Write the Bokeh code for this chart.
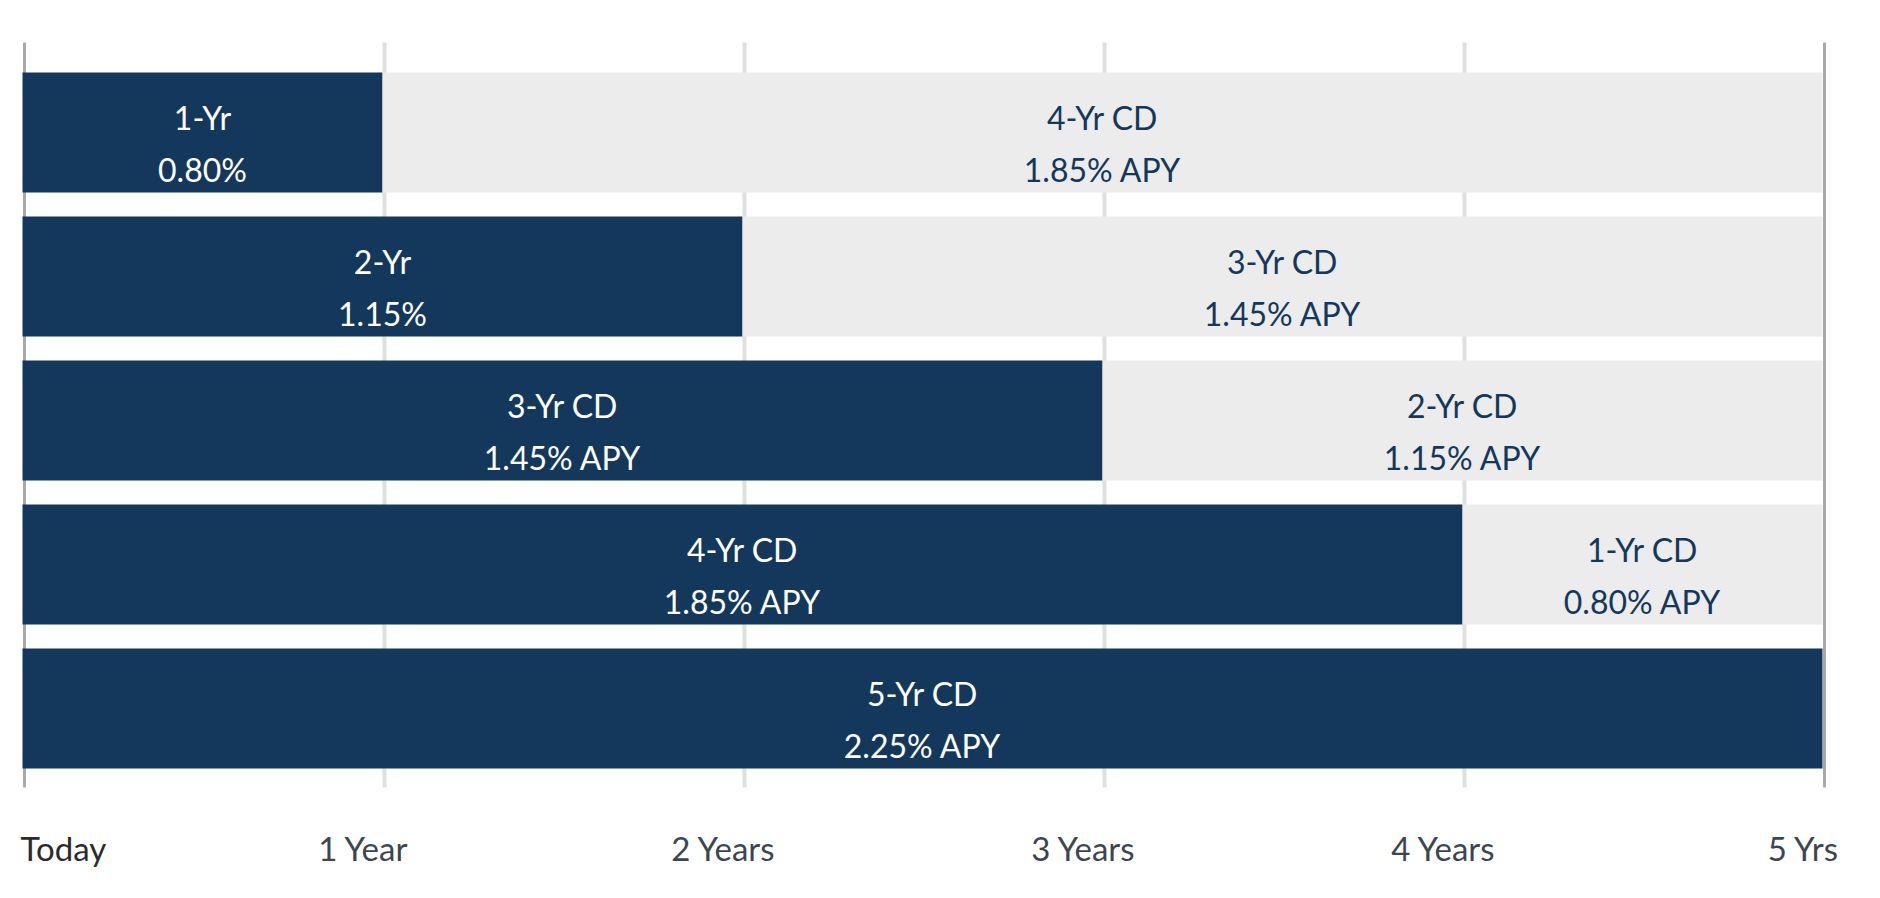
from bokeh.plotting import figure
from bokeh.models import Range1d, ColumnDataSource
from bokeh.core.properties import value
from bokeh.embed import file_html
from bokeh.resources import INLINE

# ---- data ----
rows = [0, 1, 2, 3, 4]
term_years = [1, 2, 3, 4, 5]              # dark bar: term of CD bought today
dark_name = ["1-Yr", "2-Yr", "3-Yr CD", "4-Yr CD", "5-Yr CD"]
dark_rate = ["0.80%", "1.15%", "1.45% APY", "1.85% APY", "2.25% APY"]
light_name = ["4-Yr CD", "3-Yr CD", "2-Yr CD", "1-Yr CD", ""]
light_rate = ["1.85% APY", "1.45% APY", "1.15% APY", "0.80% APY", ""]
horizon = 5
tick_years = [0, 1, 2, 3, 4, 5]
tick_labels = ["Today", "1 Year", "2 Years", "3 Years", "4 Years", "5 Yrs"]

NAVY = "#13385b"
LIGHT = "#ececec"
FONT = value("Lato")

# ---- layout (pixels) ----
W, H = 1864, 882
px_per_year = 360.0
x0_px = 22.0            # offset of "Today" from frame left
row_px = 144.0
row0_px = 132.0         # center of first row from frame top
bar_px = 120.0

x_start = -x0_px / px_per_year
x_end = x_start + W / px_per_year
y_top = -row0_px / row_px
y_bottom = y_top + H / row_px

p = figure(width=W, height=H, output_backend="svg", toolbar_location=None,
           x_range=Range1d(x_start, x_end), y_range=Range1d(y_bottom, y_top),
           min_border=0, background_fill_color="white", border_fill_color="white")
p.axis.visible = False
p.grid.visible = False
p.outline_line_color = None

# vertical grid / axis lines
g_top = y_top + 42 / row_px
g_bot = y_top + 787 / row_px
inner = tick_years[1:-1]
p.segment(x0=[t + 2 / px_per_year for t in inner], x1=[t + 2 / px_per_year for t in inner],
          y0=g_top, y1=g_bot, line_color="#e0e0e0", line_width=4)
edges = [tick_years[0], tick_years[-1]]
p.segment(x0=[e + 2 / px_per_year for e in edges], x1=[e + 2 / px_per_year for e in edges],
          y0=g_top, y1=g_bot, line_color="#a9a9a9", line_width=3)

src = ColumnDataSource(dict(
    row=rows, term=term_years, horizon=[horizon] * len(rows),
    dmid=[t / 2 for t in term_years],
    lmid=[(t + horizon) / 2 for t in term_years],
    dname=dark_name, drate=dark_rate, lname=light_name, lrate=light_rate,
))

bh = bar_px / row_px
p.hbar(y="row", left=0, right="term", height=bh, source=src,
       fill_color=NAVY, line_color=None)
p.hbar(y="row", left="term", right="horizon", height=bh, source=src,
       fill_color=LIGHT, line_color=None)

common = dict(text_font=FONT, text_font_size="32px", text_align="center",
              text_baseline="alphabetic", source=src)
p.text(x="dmid", y="row", text="dname", text_color="white", y_offset=-15, **common)
p.text(x="dmid", y="row", text="drate", text_color="white", y_offset=37, **common)
p.text(x="lmid", y="row", text="lname", text_color=NAVY, y_offset=-15, **common)
p.text(x="lmid", y="row", text="lrate", text_color=NAVY, y_offset=37, **common)

# bottom tick labels
lab_y = rows[-1]
lab_off = 139
p.text(x=[tick_years[0]], y=[lab_y], text=[tick_labels[0]], text_font=FONT,
       text_font_size="33px", text_color="#2b2b2b", text_align="left",
       text_baseline="alphabetic", y_offset=lab_off, x_offset=-2)
p.text(x=tick_years[1:], y=[lab_y] * 5, text=tick_labels[1:], text_font=FONT,
       text_font_size="33px", text_color="#3d4650", text_align="center",
       text_baseline="alphabetic", y_offset=lab_off, x_offset=-19)

open("out.html", "w").write(file_html(p, INLINE))
